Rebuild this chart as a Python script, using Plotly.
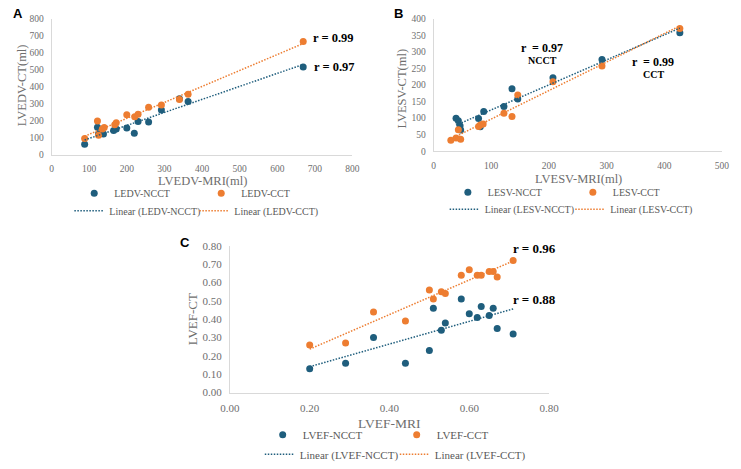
import numpy as np
import plotly.graph_objects as go

W, H = 741, 469

# ---------------- Data ----------------
# Panel A: LVEDV
a_mri_ncct = [88, 122, 125, 138, 165, 172, 200, 220, 230, 258, 292, 340, 363, 669]
a_ct_ncct = [61, 162, 124, 122, 143, 152, 158, 127, 196, 192, 263, 330, 314, 516]
a_mri_cct = [88, 122, 125, 135, 140, 168, 172, 200, 221, 230, 258, 292, 340, 363, 669]
a_ct_cct = [95, 198, 114, 152, 160, 177, 189, 236, 223, 238, 280, 293, 325, 356, 667]

# Panel B: LVESV
b_mri_ncct = [39, 43, 46, 47, 78, 81, 87, 122, 136, 146, 207, 292, 427]
b_ct_ncct = [100, 92, 77, 64, 99, 74, 120, 135, 189, 158, 222, 277, 358]
b_mri_cct = [30, 39, 43, 47, 78, 81, 86, 122, 136, 146, 207, 292, 427]
b_ct_cct = [33, 40, 65, 36, 75, 79, 82, 115, 105, 170, 210, 258, 371]

# Panel C: LVEF
c_mri = [0.20, 0.29, 0.36, 0.44, 0.50, 0.51, 0.53, 0.54, 0.58, 0.60,
         0.62, 0.63, 0.65, 0.66, 0.67, 0.71]
c_ct_ncct = [0.13, 0.16, 0.30, 0.16, 0.23, 0.46, 0.34, 0.38, 0.51, 0.43,
             0.41, 0.47, 0.42, 0.46, 0.35, 0.32]
c_ct_cct = [0.26, 0.27, 0.44, 0.39, 0.56, 0.51, 0.55, 0.54, 0.64, 0.67,
            0.64, 0.64, 0.66, 0.66, 0.63, 0.72]

BLUE = "#1F5E7D"
ORANGE = "#ED7D31"
GRAY_TXT = "#6E6E6E"
AXIS_LINE = "#D9D9D9"
SERIF = "Liberation Serif, Times New Roman, serif"
DOT = "1.5px,1.5px"


def px_x(p):
    return p / W


def px_y(p):
    return 1 - p / H


def trend(x, y):
    x = np.asarray(x, float)
    y = np.asarray(y, float)
    k, b = np.polyfit(x, y, 1)
    xs = np.array([x.min(), x.max()])
    return xs, k * xs + b


fig = go.Figure()


def add_panel(xa, ya, xs_n, ys_n, xs_c, ys_c, names, leg1, leg2):
    fig.add_trace(go.Scatter(x=xs_n, y=ys_n, mode="markers", name=names[0],
                             marker=dict(color=BLUE, size=7),
                             xaxis=xa, yaxis=ya, legend=leg1))
    fig.add_trace(go.Scatter(x=xs_c, y=ys_c, mode="markers", name=names[1],
                             marker=dict(color=ORANGE, size=7),
                             xaxis=xa, yaxis=ya, legend=leg1))
    tx, ty = trend(xs_n, ys_n)
    fig.add_trace(go.Scatter(x=tx, y=ty, mode="lines", name="Linear (" + names[0] + ")",
                             line=dict(color=BLUE, width=1.5, dash=DOT),
                             xaxis=xa, yaxis=ya, legend=leg2))
    tx, ty = trend(xs_c, ys_c)
    fig.add_trace(go.Scatter(x=tx, y=ty, mode="lines", name="Linear (" + names[1] + ")",
                             line=dict(color=ORANGE, width=1.5, dash=DOT),
                             xaxis=xa, yaxis=ya, legend=leg2))


add_panel("x", "y", a_mri_ncct, a_ct_ncct, a_mri_cct, a_ct_cct,
          ["LEDV-NCCT", "LEDV-CCT"], "legend", "legend2")
add_panel("x2", "y2", b_mri_ncct, b_ct_ncct, b_mri_cct, b_ct_cct,
          ["LESV-NCCT", "LESV-CCT"], "legend3", "legend4")
add_panel("x3", "y3", c_mri, c_ct_ncct, c_mri, c_ct_cct,
          ["LVEF-NCCT", "LVEF-CCT"], "legend5", "legend6")


def axis(domain, rng, dtick, anchor, fmt=None, fsize=9.5):
    d = dict(domain=domain, range=rng, dtick=dtick, tick0=0, anchor=anchor,
             showline=True, linecolor=AXIS_LINE, linewidth=1,
             showgrid=False, zeroline=False, ticks="",
             ticklabelstandoff=5,
             tickfont=dict(family=SERIF, size=fsize, color=GRAY_TXT),
             fixedrange=True)
    if fmt:
        d["tickformat"] = fmt
    return d


def legend(x, y, entw, fsize=10):
    return dict(orientation="h", x=x, y=y, xanchor="left", yanchor="middle",
                entrywidth=entw, entrywidthmode="pixels",
                font=dict(family=SERIF, size=fsize, color="#595959"),
                bgcolor="rgba(0,0,0,0)", borderwidth=0, tracegroupgap=0,
                itemclick=False, itemdoubleclick=False)


layout = dict(
    width=W, height=H, margin=dict(l=0, r=0, t=0, b=0),
    paper_bgcolor="white", plot_bgcolor="white", showlegend=True,
    xaxis=axis([px_x(42.7), px_x(352)], [0, 800], 100, "y"),
    yaxis=axis([px_y(153.3), px_y(13.3)], [0, 800], 100, "x"),
    xaxis2=axis([px_x(435.3), px_x(731.7)], [0, 500], 100, "y2"),
    yaxis2=axis([px_y(149.7), px_y(13.3)], [0, 400], 50, "x2"),
    xaxis3=axis([px_x(226), px_x(554)], [0, 0.8], 0.2, "y3", ".2f", 11),
    yaxis3=axis([px_y(398.5), px_y(247.3)], [0, 0.8], 0.1, "x3", ".2f", 11),
    legend=legend(px_x(66), px_y(193), 82),
    legend2=legend(px_x(61), px_y(211), 80),
    legend3=legend(px_x(450), px_y(192), 80),
    legend4=legend(px_x(446.7), px_y(209.5), 80.6),
    legend5=legend(px_x(259.7), px_y(442), 89, 11),
    legend6=legend(px_x(256.7), px_y(462), 90, 11),
)
fig.update_layout(**layout)

ann = []


def text(x, y, s, size, color="black", bold=False, angle=0, family=SERIF):
    ann.append(dict(x=px_x(x), y=px_y(y), xref="paper", yref="paper",
                    text=("<b>%s</b>" % s) if bold else s, showarrow=False,
                    xanchor="center", yanchor="middle", textangle=angle,
                    font=dict(family=family, size=size, color=color)))


# panel letters
text(8, 8, "A", 13, bold=True, family="Liberation Sans, Arial, sans-serif")
text(399, 8, "B", 13, bold=True, family="Liberation Sans, Arial, sans-serif")
text(180, 244, "C", 13, bold=True, family="Liberation Sans, Arial, sans-serif")

# axis titles
text(12, 82, "LVEDV-CT(ml)", 12.5, GRAY_TXT, angle=-90)
text(197.5, 180, "LVEDV-MRI(ml)", 12.5, GRAY_TXT)
text(403, 85, "LVESV-CT(ml)", 12.5, GRAY_TXT, angle=-90)
text(584, 178, "LVESV-MRI(ml)", 12.5, GRAY_TXT)
text(187, 323, "LVEF-CT", 13, GRAY_TXT, angle=-90)
text(390, 430, "LVEF-MRI", 13.5, GRAY_TXT)

# r annotations
text(332, 33, "r = 0.99", 12.5, bold=True)
text(333, 63, "r = 0.97", 12.5, bold=True)
text(547, 43, "r  = 0.97", 12, bold=True)
text(547, 56, "NCCT", 10, bold=True)
text(661, 58, "r  = 0.99", 12, bold=True)
text(661, 71, "CCT", 10, bold=True)
text(539, 250, "r = 0.96", 13, bold=True)
text(539, 303, "r = 0.88", 13, bold=True)

fig.update_layout(annotations=ann)

fig.write_html("out.html")
